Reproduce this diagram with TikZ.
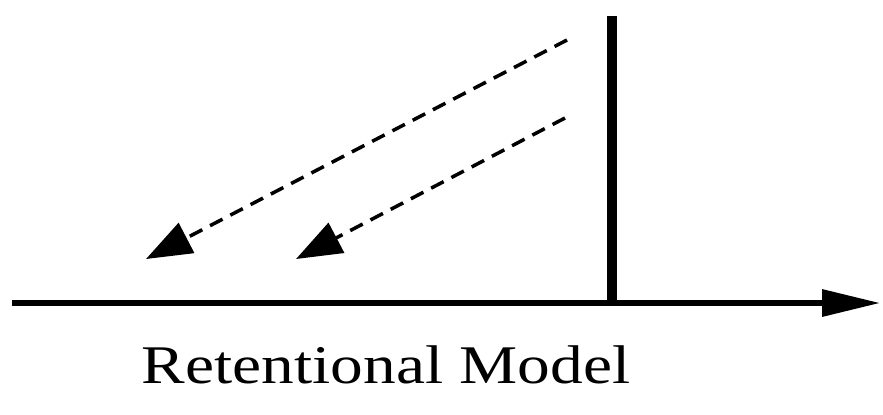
\documentclass[tikz,border=0pt]{standalone}
\usepackage{fontspec}
\setmainfont{Liberation Serif}
\usetikzlibrary{arrows.meta}

\begin{document}
\begin{tikzpicture}[
  x=0.02cm,y=-0.02cm,
  axis/.style={line width=3pt,-{Triangle[length=33pt,width=15pt]}},
  nowline/.style={line width=6pt},
  retarr/.style={line width=2pt,dash pattern=on 8pt off 5pt,-{Triangle[length=26pt,width=19pt]}},
  caption/.style={font=\fontsize{31}{36}\selectfont,xscale=1.2}
]
  \useasboundingbox (0,0) rectangle (883,414);

  % Points
  \coordinate (origin) at (12,303);
  \coordinate (axisend) at (880,303);
  \coordinate (nowtop) at (612,16);
  \coordinate (nowbase) at (612,303);
  \coordinate (retAstart) at (567,40);
  \coordinate (retAtip) at (146,259);
  \coordinate (retBstart) at (565,118);
  \coordinate (retBtip) at (296,259);

  % Time axis and now
  \draw[axis] (origin) -- (axisend);
  \draw[nowline] (nowbase) -- (nowtop);

  % Retentions
  \draw[retarr] (retAstart) -- (retAtip);
  \draw[retarr] (retBstart) -- (retBtip);

  % Label
  \node[caption,anchor=base] (label) at (386,383) {Retentional Model};
\end{tikzpicture}
\end{document}
